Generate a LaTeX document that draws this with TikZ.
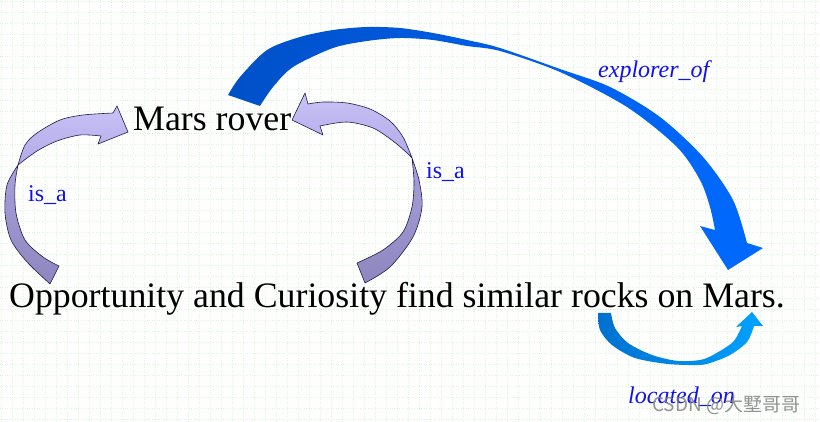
\documentclass[tikz,border=0pt]{standalone}
\usepackage{fontspec}
\setmainfont{Liberation Serif}
\newfontfamily\cjkfont{Noto Sans CJK SC}
\definecolor{gridgreen}{HTML}{DDF5DD}
\definecolor{labelblue}{HTML}{1010F0}
\definecolor{isaline}{HTML}{1C1C4C}
\definecolor{isatopA}{HTML}{C8C2F6}
\definecolor{isatopB}{HTML}{B2AAE8}
\definecolor{isabotA}{HTML}{A8A0DA}
\definecolor{isabotB}{HTML}{8E86BE}
\definecolor{explA}{HTML}{0050C8}
\definecolor{explB}{HTML}{006AFF}
\definecolor{locA}{HTML}{0070D0}
\definecolor{locB}{HTML}{00A2FF}
\begin{document}
\begin{tikzpicture}[x=1pt,y=-1pt,
  bigtext/.style={font=\fontsize{35.8}{40}\selectfont, inner sep=0, anchor=base west},
  rellabel/.style={font=\fontsize{24}{28}\selectfont, text=labelblue, inner sep=0, anchor=base west},
  isaedge/.style={draw=isaline, line width=0.6pt, line join=round},
  isatop/.style={isaedge, top color=isatopA, bottom color=isatopB},
  isabot/.style={isaedge, top color=isabotA, bottom color=isabotB},
  gridline/.style={draw=gridgreen, line width=0.45pt, dotted}
]
\useasboundingbox (0,0) rectangle (820,422);
\fill[white] (0,0) rectangle (820,422);
% background grid
\foreach \i in {0,...,74} \draw[gridline] (1+11*\i,0) -- (1+11*\i,422);
\foreach \j in {0,...,38} \draw[gridline] (0,1+11*\j) -- (820,1+11*\j);

% left is_a arrow: lower (dark) part
\path[isabot] plot[smooth] coordinates {(50,284) (27,262) (11,240) (5,213) (7,185) (18,165)}
  -- plot[smooth] coordinates {(18,165) (15,185) (16,213) (25,240) (43,257) (59,266)} -- cycle;
% left is_a arrow: upper (light) part
\path[isatop] plot[smooth] coordinates {(18,165) (25,145) (37,133) (60,120) (83,115) (113,113)}
  -- (117,106) -- (128,132) -- (98,144) -- (101,136)
  -- plot[smooth] coordinates {(101,136) (80,135) (57,141) (37,151) (18,165)} -- cycle;

% right is_a arrow: lower (dark) part
\path[isabot] plot[smooth] coordinates {(365,283) (390,267) (413,237) (422,207) (419,180) (412,158)}
  -- plot[smooth] coordinates {(412,158) (414,182) (412,207) (403,232) (383,250) (357,263)} -- cycle;
% right is_a arrow: upper (light) part
\path[isatop] plot[smooth] coordinates {(412,158) (403,137) (390,121) (370,109) (347,103) (323,102) (308,104)}
  -- (305,93) -- (292,120) -- (323,135) -- (320,126)
  -- plot[smooth] coordinates {(320,126) (347,122) (373,128) (393,141) (407,153) (412,158)} -- cycle;

% explorer_of arrow
\path[left color=explA, right color=explB]
  plot[smooth] coordinates {(228,95) (240,77) (267,50) (300,37) (333,30) (367,27) (400,28) (433,33) (467,40) (500,48) (560,69) (610,87) (660,117) (703,157) (733,200) (747,243)}
  -- (763,248) -- (728,270) -- (700,226)
  -- plot[smooth] coordinates {(715,230) (710,207) (700,180) (677,147) (627,107) (560,72) (500,51) (467,46) (433,40) (400,38) (367,41) (333,48) (293,67) (273,87) (260,106)}
  -- cycle;

% located_on arrow
\path[left color=locA, right color=locB]
  (598,313) -- (611,313)
  -- plot[smooth] coordinates {(611,313) (615,328) (628,343) (652,355) (678,361) (700,360) (713,355) (733,342) (742,326)}
  -- (736,327) -- (752,312) -- (763,326) -- (754,326)
  -- plot[smooth] coordinates {(754,326) (747,342) (730,355) (710,363) (698,365) (668,364) (635,358) (612,345) (600,330) (598,313)}
  -- cycle;

% texts
\node[bigtext] (rover) at (133,131) {Mars rover};
\node[bigtext] (sentence) at (9,308) {Opportunity and Curiosity find similar rocks on Mars.};
\node[rellabel] (isaL) at (28,202) {is\_a};
\node[rellabel] (isaR) at (426,179) {is\_a};
\node[rellabel, font=\fontsize{24}{28}\selectfont\itshape] (explorer) at (598,78) {explorer\_of};
\node[rellabel, font=\fontsize{24}{28}\selectfont\itshape] (located) at (628,403) {located\_on};
\node[inner sep=0, anchor=base west, text=black!50, opacity=0.85,
      font=\cjkfont\fontsize{19}{22}\selectfont] (watermark) at (652,411) {CSDN @大墅哥哥};
\end{tikzpicture}
\end{document}
